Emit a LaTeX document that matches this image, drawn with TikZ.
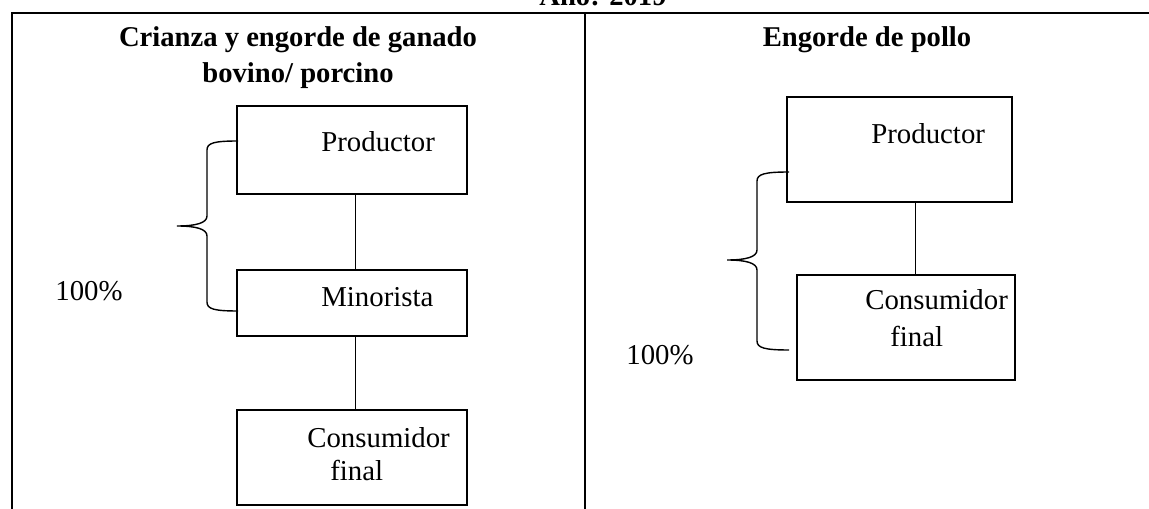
\documentclass[tikz,border=0pt]{standalone}
\usepackage{fontspec}
\setmainfont{Liberation Serif}
\usetikzlibrary{positioning,calc}

\begin{document}
\begin{tikzpicture}[x=0.02cm,y=-0.02cm,
    box/.style={draw,line width=1.1pt,inner sep=0pt},
    lbl/.style={anchor=base west,inner sep=0pt,font=\fontsize{16.4}{19}\selectfont},
    head/.style={anchor=base,inner sep=0pt,font=\bfseries\fontsize{16.3}{19}\selectfont},
    link/.style={line width=0.5pt},
    brace/.style={line width=0.8pt}]
  \useasboundingbox (0,0) rectangle (1149,509);
  \clip (0,0) rectangle (1149,509);
  % table frame
  \draw[line width=0.8pt] (12,509) -- (12,13) -- (1149,13);
  \draw[line width=0.8pt] (585,13) -- (585,509);
  \node[head] (titulo) at (603,6) {Año: 2019};
  \node[head] (hl1) at (298,47) {Crianza y engorde de ganado};
  \node[head] (hl2) at (298,83) {bovino/ porcino};
  \node[head] (hr1) at (867,47) {Engorde de pollo};

  % left chain
  \node[box,minimum width=4.6cm,minimum height=1.76cm] (lp) at (352,150) {};
  \node[box,minimum width=4.6cm,minimum height=1.32cm] (lm) at (352,303) {};
  \node[box,minimum width=4.6cm,minimum height=1.9cm] (lc) at (352,457.5) {};
  \node[lbl] (lpt) at (321,152) {Productor};
  \node[lbl] (lmt) at (321,307) {Minorista};
  \node[lbl] (lct) at (307,448) {Consumidor};
  \node[lbl] (lct2) at (330,480) {final};
  \coordinate (lx) at (355,0);
  \draw[link] (lp.south -| lx) -- (lm.north -| lx);
  \draw[link] (lm.south -| lx) -- (lc.north -| lx);

  % right chain
  \node[box,minimum width=4.5cm,minimum height=2.1cm] (rp) at (899.5,149.5) {};
  \node[box,minimum width=4.36cm,minimum height=2.1cm] (rc) at (906,327.5) {};
  \node[lbl] (rpt) at (871,144) {Productor};
  \node[lbl] (rct) at (865,310) {Consumidor};
  \node[lbl] (rct2) at (890,347) {final};
  \coordinate (rx) at (915,0);
  \draw[link] (rp.south -| rx) -- (rc.north -| rx);

  % braces
  \coordinate (la) at (238,141);
  \coordinate (lb) at (238,311);
  \draw[brace] (la) .. controls (214,141) and (207,143) .. (207,150) -- (207,216)
    .. controls (207,223) and (196,226) .. (177,226)
    .. controls (196,226) and (207,229) .. (207,236) -- (207,302)
    .. controls (207,309) and (214,311) .. (lb);
  \coordinate (ra) at (789,172);
  \coordinate (rb) at (789,350);
  \draw[brace] (ra) .. controls (765,172) and (757,174) .. (757,181) -- (757,250)
    .. controls (757,257) and (746,260) .. (727,260)
    .. controls (746,260) and (757,263) .. (757,270) -- (757,341)
    .. controls (757,348) and (765,350) .. (rb);
  \node[lbl,anchor=center] (lpc) at (89,291) {100\%};
  \node[lbl,anchor=center] (rpc) at (660,355) {100\%};
\end{tikzpicture}
\end{document}
